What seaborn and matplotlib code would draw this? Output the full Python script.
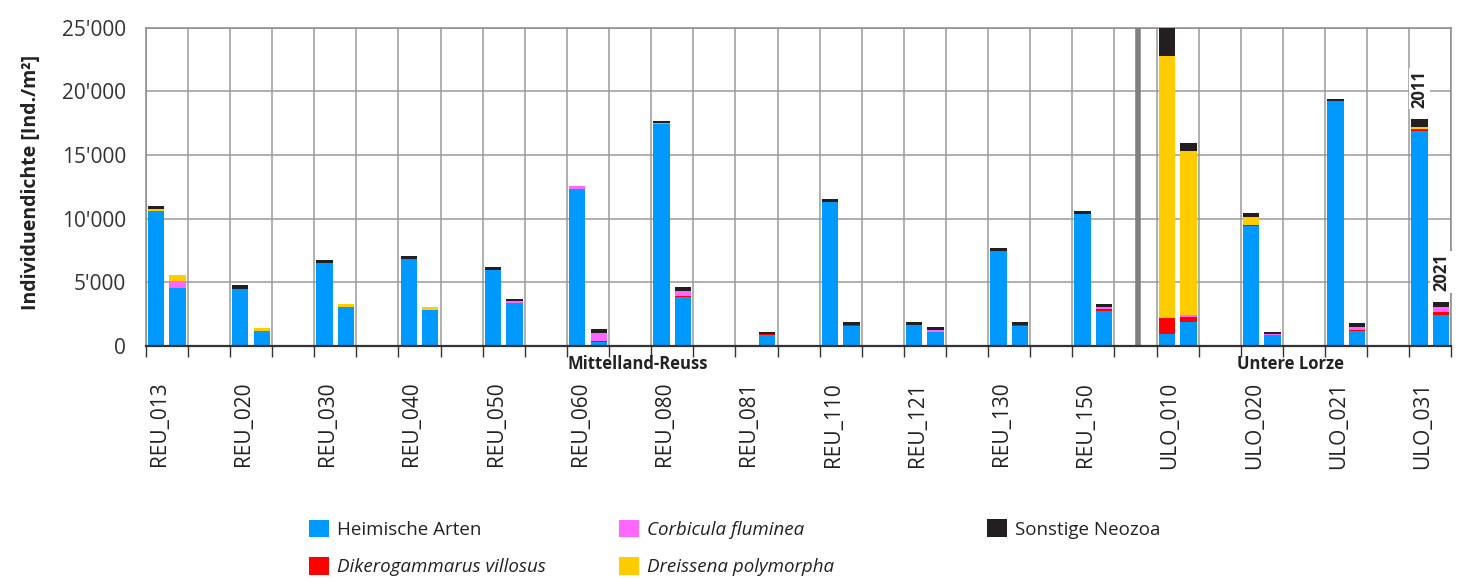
import numpy as np
import pandas as pd
import seaborn as sns
import matplotlib.pyplot as plt
from matplotlib.patches import Patch
from matplotlib.transforms import blended_transform_factory

# --- data (Ind./m2) ---
sites = ["REU_013", "REU_020", "REU_030", "REU_040", "REU_050", "REU_060",
         "REU_080", "REU_081", "REU_110", "REU_121", "REU_130", "REU_150",
         "ULO_010", "ULO_020", "ULO_021", "ULO_031"]
years = ["2011", "2021"]

heim_2011 = [10600, 4480, 6500, 6840, 5950, 12320, 17400, np.nan, 11320, 1600, 7440, 10380, 940, 9430, 19210, 16900]
diker_2011 = [0, 0, 0, 0, 0, 0, 0, np.nan, 0, 0, 0, 0, 1240, 80, 0, 100]
corb_2011 = [0, 0, 0, 0, 0, 240, 80, np.nan, 0, 0, 0, 0, 0, 0, 0, 0]
dreis_2011 = [150, 0, 40, 0, 0, 0, 0, np.nan, 0, 0, 0, 0, 20620, 610, 0, 160]
sonst_2011 = [230, 260, 200, 210, 210, 0, 180, np.nan, 210, 240, 240, 210, 2200, 290, 190, 690]

heim_2021 = [4560, 1160, 3070, 2830, 3330, 290, 3810, 870, 1520, 1100, 1570, 2750, 1840, 840, 1160, 2410]
diker_2021 = [0, 0, 0, 0, 50, 100, 130, 80, 100, 0, 60, 100, 440, 0, 80, 240]
corb_2021 = [550, 0, 0, 0, 100, 630, 370, 0, 0, 130, 0, 160, 160, 60, 250, 370]
dreis_2021 = [470, 240, 210, 240, 0, 0, 0, 0, 0, 0, 0, 0, 12870, 0, 0, 0]
sonst_2021 = [0, 0, 0, 0, 220, 260, 290, 160, 230, 230, 230, 290, 600, 180, 290, 420]

layers = ["Heimische Arten", "Dikerogammarus villosus", "Corbicula fluminea",
          "Dreissena polymorpha", "Sonstige Neozoa"]
colors = ["#0099FF", "#FF0000", "#FF66FF", "#FFCC00", "#231F20"]
italic = [False, True, True, True, False]

groups = ["Mittelland-Reuss", "Untere Lorze"]
yticks = [0, 5000, 10000, 15000, 20000, 25000]
ytick_labels = ["0", "5'000", "10'000", "15'000", "20'000", "25'000"]

# long table
rows = []
vals = {"2011": [heim_2011, diker_2011, corb_2011, dreis_2011, sonst_2011],
        "2021": [heim_2021, diker_2021, corb_2021, dreis_2021, sonst_2021]}
for yr in years:
    for i, s in enumerate(sites):
        v = [arr[i] for arr in vals[yr]]
        if np.isnan(v[0]):
            continue
        rows.append([s, i, yr] + v)
df = pd.DataFrame(rows, columns=["site", "idx", "year"] + layers)
# each site takes two grid slots, bars sit in the first one
df["pos"] = df["idx"] * 2 + 0.5
cum = df[layers].cumsum(axis=1)
for j, name in enumerate(layers):
    df["cum_" + str(j)] = cum[name]

sns.set_theme(style="white")
plt.rcParams["font.family"] = ["Open Sans", "DejaVu Sans"]

fig = plt.figure(figsize=(14.63, 5.79), dpi=100)
ax = fig.add_axes([0.0996, 0.4029, 0.8925, 0.5493])

# stacked bars: draw the cumulative totals from the top layer down
for j in reversed(range(len(layers))):
    sns.barplot(data=df, x="pos", y="cum_" + str(j), hue="year", hue_order=years,
                palette=[colors[j], colors[j]], native_scale=True, dodge=True,
                width=0.51, gap=0.235, errorbar=None, legend=False,
                saturation=1, linewidth=0, ax=ax, zorder=3)

nslots = 2 * len(sites) - 1
ax.set_xlim(0, nslots)
ax.set_ylim(0, 25000)

# grid
ax.set_xticks(np.arange(0, nslots + 1))
ax.set_xticklabels([])
ax.set_xticks(np.arange(len(sites)) * 2 + 0.32, minor=True)
ax.set_xticklabels(sites, minor=True, rotation=90, fontsize=15, color="#222222",
                   va="top", ha="center")
ax.tick_params(axis="x", which="major", length=8, width=1, color="#333333",
               direction="out", bottom=True)
ax.tick_params(axis="x", which="minor", length=0, pad=26)
ax.grid(True, axis="both", which="major", color="#9a9a9a", linewidth=1.1, zorder=0)
ax.set_axisbelow(True)

ax.set_yticks(yticks)
ax.set_yticklabels(ytick_labels, fontsize=15, color="#333333")
ax.tick_params(axis="y", length=0, pad=14)

for side in ["top", "right", "left"]:
    ax.spines[side].set_color("#8a8a8a")
    ax.spines[side].set_linewidth(1.1)
ax.spines["bottom"].set_color("#333333")
ax.spines["bottom"].set_linewidth(1.6)
ax.spines["bottom"].set_zorder(5)

ax.set_xlabel("")
ax.set_ylabel("Individuendichte [Ind./m²]", fontsize=14, fontweight="bold", color="#222222")
ax.yaxis.set_label_coords(-0.08, 0.513)

# separator between the two river sections
ax.axvline(23.55, color="#808080", linewidth=4, zorder=4)

# section names
trans = blended_transform_factory(ax.transData, ax.transAxes)
ax.text(11.68, -0.058, groups[0], transform=trans, ha="center", va="center",
        fontsize=12, fontweight="bold", color="#222222")
ax.text(27.19, -0.058, groups[1], transform=trans, ha="center", va="center",
        fontsize=12, fontweight="bold", color="#222222")

# year labels above the last site
last = df[df["site"] == sites[-1]]
for k, yr in enumerate(years):
    r = last[last["year"] == yr].iloc[0]
    xc = r["pos"] + (-0.255 if k == 0 else 0.255)
    ax.annotate(yr, xy=(xc, r["cum_4"]), xytext=(0, 8), textcoords="offset points",
                rotation=90, ha="center", va="bottom", fontsize=12, fontweight="bold",
                color="#222222", zorder=6,
                bbox=dict(boxstyle="square,pad=0.1", fc="white", ec="none"))

# legend
handles = [Patch(facecolor=c, edgecolor="none") for c in colors]
legA = fig.legend([handles[i] for i in range(4)], [layers[i] for i in range(4)],
                  ncol=2, loc="center left", bbox_to_anchor=(309 / 1463, 0.0535),
                  frameon=False, fontsize=13.5, handlelength=1.05, handleheight=1.05,
                  handletextpad=0.45, labelspacing=1.0, columnspacing=3.9,
                  borderpad=0, borderaxespad=0)
for i, t in enumerate(legA.get_texts()):
    t.set_color("#222222")
    if italic[i]:
        t.set_fontstyle("italic")
legB = fig.legend([handles[4]], [layers[4]], loc="center left",
                  bbox_to_anchor=(987 / 1463, 0.0864), frameon=False, fontsize=13.5,
                  handlelength=1.05, handleheight=1.05, handletextpad=0.45,
                  borderpad=0, borderaxespad=0)
legB.get_texts()[0].set_color("#222222")

fig.savefig("out.png", dpi=100)
